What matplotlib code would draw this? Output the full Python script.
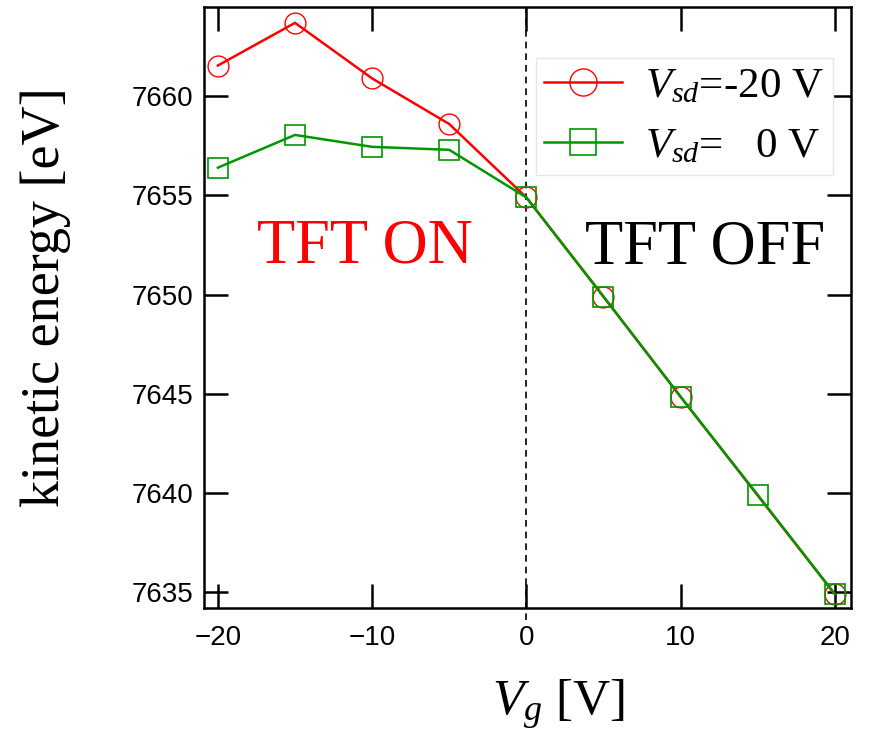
import numpy as np
import matplotlib

matplotlib.use('Agg')

import matplotlib.pyplot as plt

plt.rcParams['mathtext.fontset'] = 'custom'
plt.rcParams['mathtext.rm'] = 'Liberation Serif'
plt.rcParams['mathtext.it'] = 'Liberation Serif:italic'

# gate voltage [V] and kinetic energy [eV]
vg_m20 = [-20, -15, -10, -5, 0, 5, 10, 20]
ke_m20 = [7661.55, 7663.7, 7660.9, 7658.6, 7654.9, 7649.9, 7644.85, 7634.9]
vg_0 = [-20, -15, -10, -5, 0, 5, 10, 15, 20]
ke_0 = [7656.4, 7658.05, 7657.45, 7657.3, 7654.9, 7649.9, 7644.85, 7639.9, 7634.9]

x_ticks = [-20, -10, 0, 10, 20]
y_ticks = [7635, 7640, 7645, 7650, 7655, 7660]

red = '#ff0000'
green = '#009600'

fig = plt.figure(figsize=(8.7, 7.42), dpi=100)
ax = fig.add_axes([204 / 870, 1 - 608 / 742, 647 / 870, 601 / 742])

ax.plot(vg_m20, ke_m20, color=red, linewidth=1.8, marker='o', markersize=15,
        markerfacecolor='none', markeredgecolor=red, markeredgewidth=1.0,
        label=r'$V_{sd}$=-20 V', zorder=3)
ax.plot(vg_0, ke_0, color=green, linewidth=1.8, marker='s', markersize=14.5,
        markerfacecolor='none', markeredgecolor=green, markeredgewidth=1.2,
        label=r'$V_{sd}$=   0 V', zorder=4)

ax.axvline(0, ymin=-0.02, ymax=1, color='k', linestyle=(0, (4, 3)), linewidth=1.2,
           clip_on=False, zorder=2)

ax.set_xlim(-20.9, 21.05)
ax.set_ylim(7634.2, 7664.5)
ax.set_xticks(x_ticks)
ax.set_yticks(y_ticks)
ax.set_xticklabels(['\u221220', '\u221210', '0', '10', '20'])

for sp in ax.spines.values():
    sp.set_linewidth(1.8)
ax.tick_params(direction='in', length=17, width=1.8, top=True, right=True,
               labelsize=20, colors='k')
ax.tick_params(axis='x', pad=12)
ax.tick_params(axis='y', pad=8)
for lbl in ax.get_xticklabels() + ax.get_yticklabels():
    lbl.set_family('Liberation Sans')

ax.text(-10.5, 7652.4, 'TFT ON', color=red, fontsize=45, family='Liberation Serif',
        ha='center', va='center')
ax.text(11.6, 7652.3, 'TFT OFF', color='k', fontsize=45, family='Liberation Serif',
        ha='center', va='center')

leg = ax.legend(loc='upper right', bbox_to_anchor=(0.972, 0.915), borderaxespad=0,
                prop={'family': 'Liberation Serif', 'size': 31}, markerscale=1.3,
                handlelength=1.8, handletextpad=0.55, labelspacing=0.5,
                borderpad=0.2, fancybox=False, framealpha=1)
leg.get_frame().set_edgecolor('#e6e6e6')
leg.get_frame().set_linewidth(1.0)

fig.text(46 / 870, 1 - 297 / 742, 'kinetic energy [eV]', rotation=90,
         fontsize=39, family='Liberation Serif', ha='center', va='center')
fig.text(558 / 870, 1 - 705 / 742, r'$V_g$ [V]', fontsize=37,
         family='Liberation Serif', ha='center', va='center')

fig.savefig('out.png', dpi=100)
